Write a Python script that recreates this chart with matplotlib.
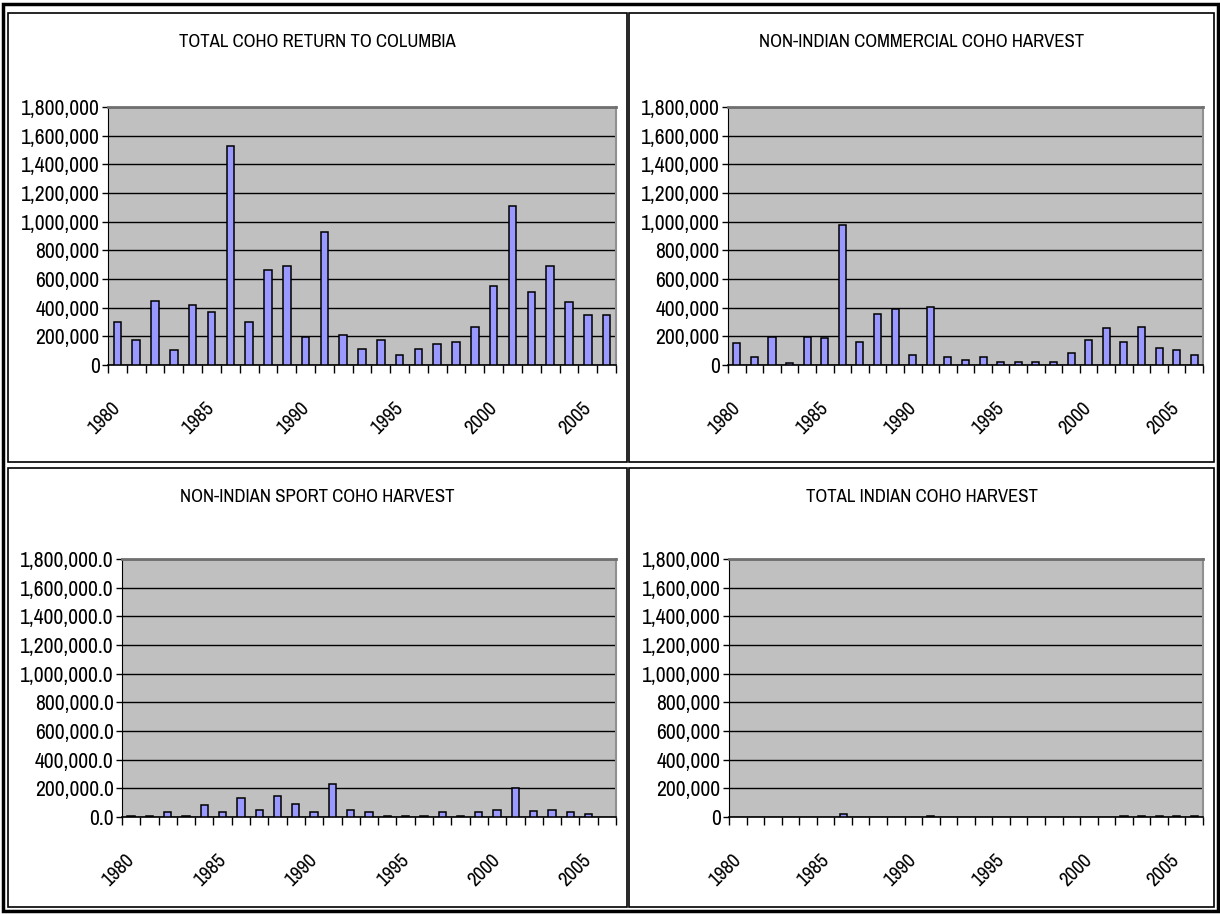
import numpy as np
import matplotlib
matplotlib.use("Agg")
import matplotlib.pyplot as plt
from matplotlib.patches import Rectangle
from matplotlib.ticker import FuncFormatter

years = list(range(1980, 2007))

total_return = [300000, 175000, 450000, 105000, 420000, 370000, 1530000,
                300000, 660000, 693000, 198000, 928000, 210000, 115000,
                174000, 68000, 115000, 150000, 163000, 266000, 553000,
                1112000, 509000, 693000, 440000, 350000, 350000]

commercial = [151000, 58000, 198000, 12000, 198000, 186000, 979000,
              163000, 358000, 391000, 70000, 407000, 58000, 35000,
              58000, 24000, 24000, 24000, 24000, 81000, 174000,
              256000, 163000, 265000, 116000, 105000, 70000]

sport = [6000, 6000, 32000, 6000, 84000, 32000, 136000,
         52000, 148000, 93000, 32000, 232000, 52000, 32000,
         6000, 6000, 6000, 32000, 6000, 32000, 52000,
         200000, 41000, 52000, 32000, 20000, None]

indian = [None, None, None, None, None, None, 22000,
          None, None, None, None, 7000, None, None,
          None, None, None, None, None, None, None,
          None, 5000, 5000, 5000, 5000, 5000]

titles = ["TOTAL COHO RETURN TO COLUMBIA",
          "NON-INDIAN COMMERCIAL COHO HARVEST",
          "NON-INDIAN SPORT COHO HARVEST",
          "TOTAL INDIAN COHO HARVEST"]

W, H = 1220, 914


def fig_box(x0, y0, x1, y1):
    # pixel box (top-left origin) -> figure fraction rect
    return [x0 / W, 1 - y1 / H, (x1 - x0) / W, (y1 - y0) / H]


def draw_panel(fig, rect, values, decimals):
    ax = fig.add_axes(rect)
    ax.set_facecolor("#C0C0C0")

    idx = [i for i, v in enumerate(values) if v is not None]
    hts = [values[i] for i in idx]
    ax.bar(idx, hts, width=0.4, color="#9999FF", edgecolor="black",
           linewidth=1.1, zorder=3)

    ax.set_xlim(-0.5, len(years) - 0.5)
    ax.set_ylim(0, 1800000)
    ax.set_yticks(np.arange(0, 1800001, 200000))
    ax.yaxis.grid(True, color="black", linewidth=1.0, zorder=1)
    ax.set_axisbelow(True)

    if decimals:
        fmt = FuncFormatter(lambda v, p: "{:,.1f}".format(v))
    else:
        fmt = FuncFormatter(lambda v, p: "{:,.0f}".format(v))
    ax.yaxis.set_major_formatter(fmt)
    ax.tick_params(axis="y", length=4, width=1, pad=2, labelsize=15.5,
                   colors="black")

    # category boundaries carry the tick marks, labels sit on the centers
    ax.set_xticks(np.arange(-0.5, len(years)), labels=[])
    ax.tick_params(axis="x", which="major", length=6, width=1)
    lab_pos = [i for i, y in enumerate(years) if y % 5 == 0]
    ax.set_xticks(lab_pos, labels=[str(years[i]) for i in lab_pos], minor=True)
    ax.tick_params(axis="x", which="minor", length=0, pad=29, labelsize=14.5)
    for t in ax.get_xticklabels(minor=True):
        t.set_rotation(45)
        t.set_ha("right")
        t.set_va("center")
        t.set_rotation_mode("anchor")

    ax.spines["left"].set_color("black")
    ax.spines["bottom"].set_color("black")
    ax.spines["bottom"].set_linewidth(1.2)
    ax.spines["top"].set_color("#707070")
    ax.spines["top"].set_linewidth(2)
    ax.spines["right"].set_color("#909090")
    ax.spines["right"].set_linewidth(1.5)
    return ax


def main():
    plt.rcParams["font.family"] = ["Archivo Narrow", "Liberation Sans",
                                   "DejaVu Sans"]
    fig = plt.figure(figsize=(W / 100, H / 100), dpi=100)

    # outer frame
    fig.patches.append(Rectangle((3 / W, 1 - 911 / H), 1215 / W, 907 / H,
                                 transform=fig.transFigure, fill=False,
                                 edgecolor="black", linewidth=2.5))

    panels = [
        ((8, 13, 627, 462), (108, 107, 616, 365), total_return, False),
        ((629, 13, 1214, 462), (728, 107, 1203, 365), commercial, False),
        ((8, 468, 627, 907), (122, 559, 616, 817), sport, True),
        ((629, 468, 1214, 907), (729, 559, 1203, 817), indian, False),
    ]

    for (box, plot, values, dec), title in zip(panels, titles):
        bx0, by0, bx1, by1 = box
        fig.patches.append(Rectangle((bx0 / W, 1 - by1 / H), (bx1 - bx0) / W,
                                     (by1 - by0) / H,
                                     transform=fig.transFigure, fill=False,
                                     edgecolor="black", linewidth=1.2))
        draw_panel(fig, fig_box(*plot), values, dec)
        fig.text((bx0 + bx1) / 2 / W, 1 - (by0 + 29) / H, title,
                 ha="center", va="center", fontsize=13.5)

    fig.savefig("out.png", dpi=100, facecolor="white")


if __name__ == '__main__':
    main()
